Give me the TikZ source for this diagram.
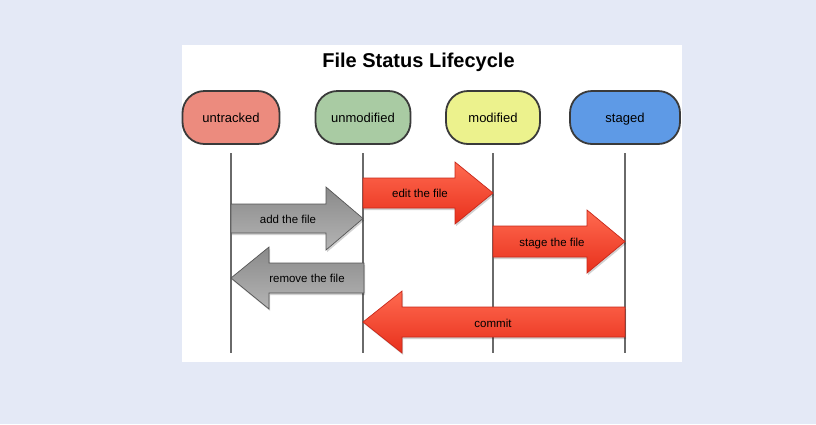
\documentclass[tikz,border=0pt]{standalone}
\usepackage{fontspec}
\setmainfont{Liberation Sans}
\usetikzlibrary{calc}
\definecolor{bg}{HTML}{E4E9F6}
\definecolor{cuntr}{HTML}{EC8B7E}
\definecolor{cunmod}{HTML}{A9CBA3}
\definecolor{cmod}{HTML}{ECF28D}
\definecolor{cstaged}{HTML}{5E9AE6}
\definecolor{nodeborder}{HTML}{3A3A3A}
\definecolor{vline}{HTML}{6A6A6A}
\definecolor{redtop}{HTML}{FF6A50}
\definecolor{redbot}{HTML}{E8301C}
\definecolor{rededge}{HTML}{C8281A}
\definecolor{graytop}{HTML}{8A8A8A}
\definecolor{graybot}{HTML}{B4B4B4}
\definecolor{grayedge}{HTML}{555555}
\newcommand\flatarrow[7]{%
  \fill[black, opacity=0.18, xshift=1.2pt, yshift=-2pt] (#2,#4-#6) -- (#5,#4-#6) -- (#5,#4-#7) -- (#3,#4) -- (#5,#4+#7) -- (#5,#4+#6) -- (#2,#4+#6) -- cycle;
  \draw[#1] (#2,#4-#6) -- (#5,#4-#6) -- (#5,#4-#7) -- (#3,#4) -- (#5,#4+#7) -- (#5,#4+#6) -- (#2,#4+#6) -- cycle;}
\begin{document}
\begin{tikzpicture}[x=1pt,y=-1pt,
  statebox/.style={draw=nodeborder, line width=1.8pt, rounded corners=22pt,
    minimum height=53pt, inner sep=0pt, font=\fontsize{13}{15}\selectfont, text=black,
    text height=9.5pt, text depth=0pt},
  lifeline/.style={draw=vline, line width=2pt},
  redarrow/.style={draw=rededge, line width=0.7pt, top color=redtop, bottom color=redbot},
  grayarrow/.style={draw=grayedge, line width=0.7pt, top color=graytop, bottom color=graybot},
  arrowlabel/.style={font=\fontsize{11.5}{13}\selectfont, text=black, inner sep=0pt,
    text height=8.5pt, text depth=0pt}]
\useasboundingbox (0,0) rectangle (816,424);
\fill[bg] (0,0) rectangle (816,424);
\fill[white] (182,45) rectangle (682,362);

\node[font=\bfseries\fontsize{20}{24}\selectfont, anchor=base] (title) at (418.5,67) {File Status Lifecycle};

\node[statebox, fill=cuntr, minimum width=97pt] (untracked) at (231,117.5) {untracked};
\node[statebox, fill=cunmod, minimum width=95pt] (unmodified) at (363,117.5) {unmodified};
\node[statebox, fill=cmod, minimum width=94pt] (modified) at (493,117.5) {modified};
\node[statebox, fill=cstaged, minimum width=110pt] (staged) at (625,117.5) {staged};

\coordinate (l1t) at (231,153); \coordinate (l1b) at (231,353);
\coordinate (l2t) at (363,153); \coordinate (l2b) at (363,353);
\coordinate (l3t) at (493,153); \coordinate (l3b) at (493,353);
\coordinate (l4t) at (625,153); \coordinate (l4b) at (625,353);
\draw[lifeline] (l1t) -- (l1b);
\draw[lifeline] (l2t) -- (l2b);
\draw[lifeline] (l3t) -- (l3b);
\draw[lifeline] (l4t) -- (l4b);

% add the file
\flatarrow{grayarrow}{231}{363}{218.5}{326}{14.5}{31.5}
\node[arrowlabel] (addlbl) at (288,219) {add the file};
% edit the file
\flatarrow{redarrow}{363}{493}{193}{455}{15}{31}
\node[arrowlabel] (editlbl) at (420,193.5) {edit the file};
% stage the file
\flatarrow{redarrow}{493}{625}{241.5}{587}{15.5}{31.5}
\node[arrowlabel] (stagelbl) at (552,242) {stage the file};
% remove the file
\flatarrow{grayarrow}{364}{231}{278}{269}{15}{31}
\node[arrowlabel] (removelbl) at (307,278.5) {remove the file};
% commit
\flatarrow{redarrow}{625}{363}{322}{402}{15}{31}
\node[arrowlabel] (commitlbl) at (493,323.5) {commit};
\end{tikzpicture}
\end{document}
